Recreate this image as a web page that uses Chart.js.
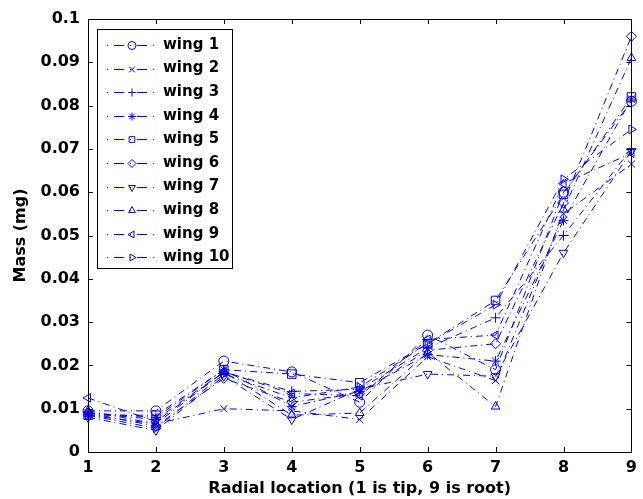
<!DOCTYPE html>
<html><head><meta charset="utf-8">
<script src="https://cdn.jsdelivr.net/npm/chart.js@4/dist/chart.umd.min.js"></script>
<style>html,body{margin:0;padding:0;background:#fff}#wrap{width:643px;height:499px;position:relative}</style>
</head><body><div id="wrap"><canvas id="c" width="643" height="499"></canvas></div>
<script>
const categories = [1, 2, 3, 4, 5, 6, 7, 8, 9];
const wing1  = [0.0095, 0.0095, 0.0210, 0.0185, 0.0115, 0.0270, 0.0190, 0.0600, 0.0810];
const wing2  = [0.0085, 0.0065, 0.0100, 0.0095, 0.0075, 0.0220, 0.0165, 0.0550, 0.0665];
const wing3  = [0.0090, 0.0075, 0.0185, 0.0140, 0.0145, 0.0240, 0.0310, 0.0500, 0.0700];
const wing4  = [0.0090, 0.0080, 0.0190, 0.0105, 0.0140, 0.0225, 0.0210, 0.0535, 0.0815];
const wing5  = [0.0085, 0.0085, 0.0190, 0.0180, 0.0160, 0.0250, 0.0350, 0.0595, 0.0820];
const wing6  = [0.0090, 0.0060, 0.0170, 0.0115, 0.0135, 0.0235, 0.0250, 0.0575, 0.0960];
const wing7  = [0.0080, 0.0050, 0.0175, 0.0075, 0.0145, 0.0180, 0.0175, 0.0460, 0.0695];
const wing8  = [0.0095, 0.0065, 0.0185, 0.0085, 0.0090, 0.0230, 0.0105, 0.0560, 0.0910];
const wing9  = [0.0125, 0.0070, 0.0185, 0.0135, 0.0130, 0.0260, 0.0270, 0.0620, 0.0690];
const wing10 = [0.0085, 0.0055, 0.0180, 0.0125, 0.0150, 0.0250, 0.0340, 0.0630, 0.0745];
const seriesNames = ['wing 1','wing 2','wing 3','wing 4','wing 5','wing 6','wing 7','wing 8','wing 9','wing 10'];
const yTicks = [0, 0.01, 0.02, 0.03, 0.04, 0.05, 0.06, 0.07, 0.08, 0.09, 0.1];
const xTitle = 'Radial location (1 is tip, 9 is root)';
const yTitle = 'Mass (mg)';

const seriesValues = [wing1, wing2, wing3, wing4, wing5, wing6, wing7, wing8, wing9, wing10];
const markerStyles = [
  {s:'circle', r:0}, {s:'crossRot', r:0}, {s:'cross', r:0}, {s:'star', r:0}, {s:'rect', r:0},
  {s:'rectRot', r:0}, {s:'triangle', r:180}, {s:'triangle', r:0}, {s:'triangle', r:270}, {s:'triangle', r:90}
];
const BLUE = '#0000ff';
const FONT = '"DejaVu Sans", sans-serif';
const DASH = [7, 4, 1, 4];

const datasets = seriesValues.map((vals, i) => ({
  label: seriesNames[i],
  data: vals.map((v, j) => ({x: categories[j], y: v})),
  borderColor: BLUE,
  borderWidth: 1,
  borderDash: DASH,
  pointStyle: markerStyles[i].s,
  pointRotation: markerStyles[i].r,
  pointRadius: markerStyles[i].s === 'rect' ? 6 : 5,
  pointBorderColor: BLUE,
  pointBackgroundColor: 'rgba(0,0,0,0)',
  pointBorderWidth: 1,
  tension: 0,
  clip: false
}));

const framePlugin = {
  id: 'frame',
  afterDraw(chart) {
    const {ctx, chartArea: a, scales} = chart;
    ctx.save();
    ctx.strokeStyle = '#000';
    ctx.lineWidth = 1;
    ctx.setLineDash([]);
    ctx.beginPath();
    ctx.rect(Math.round(a.left) + 0.5, Math.round(a.top) + 0.5, Math.round(a.right - a.left), Math.round(a.bottom - a.top));
    ctx.stroke();
    ctx.beginPath();
    yTicks.forEach(v => {
      const y = Math.round(scales.y.getPixelForValue(v)) + 0.5;
      ctx.moveTo(a.left, y); ctx.lineTo(a.left + 5, y);
      ctx.moveTo(a.right, y); ctx.lineTo(a.right - 5, y);
    });
    categories.forEach(c => {
      const x = Math.round(scales.x.getPixelForValue(c)) + 0.5;
      ctx.moveTo(x, a.bottom); ctx.lineTo(x, a.bottom - 5);
      ctx.moveTo(x, a.top); ctx.lineTo(x, a.top + 5);
    });
    ctx.stroke();

    // legend box
    const lx = 97.5, ly = 29.5, lw = 135, lh = 239;
    ctx.fillStyle = '#fff';
    ctx.fillRect(lx, ly, lw, lh);
    ctx.strokeStyle = '#000';
    ctx.strokeRect(lx, ly, lw, lh);
    seriesNames.forEach((name, i) => {
      const y = 45 + i * 23.6;
      ctx.strokeStyle = BLUE;
      ctx.lineWidth = 1;
      ctx.setLineDash([1, 6, 10, 6]);
      ctx.beginPath();
      ctx.moveTo(107, Math.round(y) + 0.5);
      ctx.lineTo(157, Math.round(y) + 0.5);
      ctx.stroke();
      ctx.setLineDash([]);
      ctx.fillStyle = 'rgba(0,0,0,0)';
      Chart.helpers.drawPoint(ctx, {pointStyle: markerStyles[i].s, rotation: markerStyles[i].r, radius: 4, borderWidth: 1}, 132, Math.round(y) + 0.5);
      ctx.fillStyle = '#000';
      ctx.font = 'bold 15px ' + FONT;
      ctx.textBaseline = 'middle';
      ctx.textAlign = 'left';
      ctx.fillText(name, 163, y);
    });
    ctx.restore();
  }
};

new Chart(document.getElementById('c'), {
  type: 'line',
  data: {datasets},
  plugins: [framePlugin],
  options: {
    responsive: false,
    animation: false,
    devicePixelRatio: 1,
    layout: {padding: {top: 19, right: 7, left: 0, bottom: 0}},
    plugins: {legend: {display: false}, tooltip: {enabled: false}},
    scales: {
      x: {
        type: 'linear', min: 1, max: 9,
        afterFit(s) { s.height = 47; },
        afterBuildTicks(s) { s.ticks = categories.map(v => ({value: v})); },
        grid: {display: false, drawTicks: false},
        border: {display: false},
        ticks: {color: '#000', padding: 6, font: {family: FONT, weight: 'bold', size: 16}, maxRotation: 0, callback: v => String(v)},
        title: {display: true, text: xTitle, color: '#000', font: {family: FONT, weight: 'bold', size: 16}, padding: {top: 0, bottom: 1}}
      },
      y: {
        min: 0, max: 0.1,
        afterFit(s) { s.width = 88; },
        afterBuildTicks(s) { s.ticks = yTicks.map(v => ({value: v})); },
        grid: {display: false, drawTicks: false},
        border: {display: false},
        ticks: {color: '#000', padding: 8, font: {family: FONT, weight: 'bold', size: 16}, callback: v => String(Number(v.toFixed(2)))},
        title: {display: true, text: yTitle, color: '#000', font: {family: FONT, weight: 'bold', size: 16}, padding: {top: 11, bottom: 0}}
      }
    }
  }
});
</script>
</body></html>
